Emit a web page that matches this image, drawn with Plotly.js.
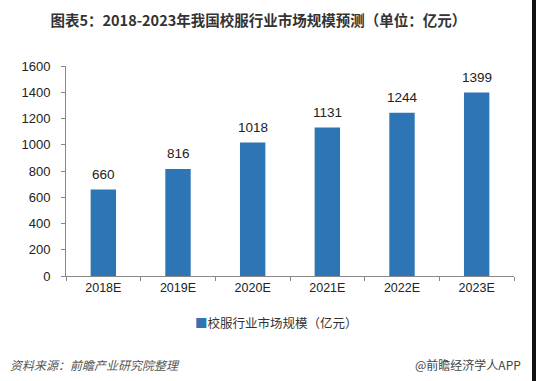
<!DOCTYPE html>
<html><head><meta charset="utf-8">
<script src="https://cdn.plot.ly/plotly-3.0.1.min.js"></script>
<style>html,body{margin:0;padding:0;background:#fff;overflow:hidden}#c{width:536px;height:381px}#edge{position:absolute;left:532px;top:0;width:4px;height:381px;background:#111}</style>
</head><body><div id="c"></div><div id="edge"></div>
<script>
const categories = ['2018E','2019E','2020E','2021E','2022E','2023E'];
const marketSize = [660, 816, 1018, 1131, 1244, 1399];
const yTicks = [0,200,400,600,800,1000,1200,1400,1600];
const seriesName = '校服行业市场规模（亿元）';
const titleText = '图表5：2018-2023年我国校服行业市场规模预测（单位：亿元）';
const sourceText = '资料来源：前瞻产业研究院整理';
const brandText = '@前瞻经济学人APP';
const BLUE = '#2E75B6';
const F = 'Liberation Sans, Noto Sans CJK SC, sans-serif';
const CJK = 'Noto Sans CJK SC, sans-serif';
const labelAnns = categories.map((c,i)=>({
  text:String(marketSize[i]), x:c, y:marketSize[i], xref:'x', yref:'y', yshift:15, yanchor:'middle',
  showarrow:false, font:{family:F,size:13.5,color:'#222'}
}));
Plotly.newPlot('c', [{
  type:'bar', x:categories, y:marketSize, name:seriesName,
  marker:{color:BLUE}, hoverinfo:'none'
}], {
  width:536, height:381, margin:{l:66,r:22,t:66,b:105},
  paper_bgcolor:'#fff', plot_bgcolor:'#fff', bargap:0.66,
  font:{family:F,size:12,color:'#333'},
  title:{text:'<b>'+titleText+'</b>', font:{family:CJK,size:14.5,color:'#333'}, x:0.482, xanchor:'center', y:0.945, yanchor:'middle'},
  xaxis:{showline:true, linecolor:'#888', linewidth:1, ticks:'outside', ticklen:4, tickcolor:'#888',
    tickson:'boundaries', showgrid:false, zeroline:false, tickfont:{family:F,size:12.5,color:'#222'}, fixedrange:true},
  yaxis:{range:[0,1600], tickvals:yTicks, showline:true, linecolor:'#888', linewidth:1, ticks:'outside', ticklen:4,
    tickcolor:'#888', showgrid:false, zeroline:false, tickfont:{family:F,size:13,color:'#222'}, ticklabelstandoff:8, fixedrange:true},
  showlegend:false,
  annotations: labelAnns.concat([
    {text:'<span style="color:'+BLUE+'">■</span>'+seriesName, xref:'paper', yref:'paper', x:0.47, xanchor:'center', y:-0.22, yanchor:'middle', showarrow:false, font:{family:CJK,size:12.5,color:'#333'}},
    {text:'<i>'+sourceText+'</i>', xref:'paper', yref:'paper', x:-0.13, xanchor:'left', y:-0.42, yanchor:'middle', showarrow:false, font:{family:CJK,size:12,color:'#555'}},
    {text:brandText, xref:'paper', yref:'paper', x:1.02, xanchor:'right', y:-0.42, yanchor:'middle', showarrow:false, font:{family:CJK,size:12,color:'#444'}}
  ])
}, {staticPlot:true});
</script></body></html>
